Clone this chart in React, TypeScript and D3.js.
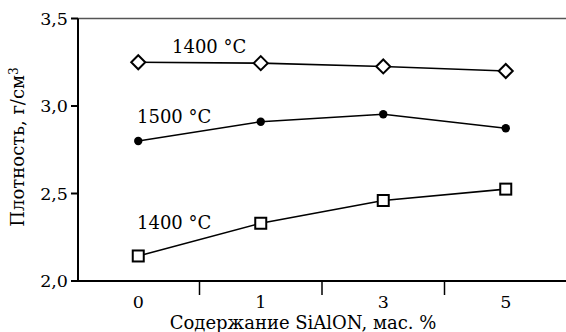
import * as d3 from "d3";

const categories = ["0", "1", "3", "5"];
const diamond1400 = [3.25, 3.245, 3.226, 3.2];
const dots1500 = [2.8, 2.91, 2.953, 2.873];
const squares1400 = [2.143, 2.33, 2.46, 2.525];
const yTicks = [2.0, 2.5, 3.0, 3.5];

const W = 566;
const H = 332;
const font = "DejaVu Serif";

export default function App() {
  const x = d3.scaleBand<string>().domain(categories).range([77, 567]);
  const y = d3.scaleLinear().domain([2.0, 3.5]).range([281, 18.5]);
  const cx = (c: string) => (x(c) ?? 0) + x.bandwidth() / 2;

  const mk = (vals: number[]) =>
    d3
      .line<number>()
      .x((_, i) => cx(categories[i]))
      .y((v) => y(v))(vals) ?? "";

  const fmt = (v: number) => v.toFixed(1).replace(".", ",");
  const bounds = categories.slice(1).map((c) => x(c) ?? 0);
  const ts = { fontFamily: font, fontSize: 17.5 };
  const ls = { fontFamily: font, fontSize: 18 };

  return (
    <svg
      width={W}
      height={H}
      style={{ position: "absolute", left: 0, top: 0, background: "#fff" }}
    >
      <line x1={78} x2={566} y1={y(3.5)} y2={y(3.5)} stroke="#555" strokeWidth={1.5} />
      <line x1={78} x2={78} y1={y(3.5)} y2={y(2.0) + 1} stroke="#000" strokeWidth={2} />
      <line x1={77} x2={566} y1={y(2.0)} y2={y(2.0)} stroke="#000" strokeWidth={2} />
      {yTicks.map((t) => (
        <g key={t}>
          <line x1={71} x2={78} y1={y(t)} y2={y(t)} stroke="#000" strokeWidth={2} />
          <text x={68} y={y(t)} dy="0.35em" textAnchor="end" style={ts}>
            {fmt(t)}
          </text>
        </g>
      ))}
      {bounds.map((b, i) => (
        <line key={i} x1={b} x2={b} y1={y(2.0)} y2={y(2.0) + 14} stroke="#000" strokeWidth={1.5} />
      ))}
      {categories.map((c) => (
        <text key={c} x={cx(c)} y={308} textAnchor="middle" style={ts}>
          {c}
        </text>
      ))}
      <text x={303} y={329} textAnchor="middle" style={ls}>
        Содержание SiAlON, мас. %
      </text>
      <text
        transform={`translate(24,147) rotate(-90)`}
        textAnchor="middle"
        style={ls}
      >
        Плотность, г/см<tspan dy="-6" style={{ fontSize: 12 }}>3</tspan>
      </text>

      <path d={mk(diamond1400)} fill="none" stroke="#000" strokeWidth={1.6} />
      <path d={mk(dots1500)} fill="none" stroke="#000" strokeWidth={1.6} />
      <path d={mk(squares1400)} fill="none" stroke="#000" strokeWidth={1.6} />

      {diamond1400.map((v, i) => {
        const px = cx(categories[i]);
        const py = y(v);
        const r = 7;
        return (
          <path
            key={"d" + i}
            d={`M${px - r},${py}L${px},${py - r}L${px + r},${py}L${px},${py + r}Z`}
            fill="#fff"
            stroke="#000"
            strokeWidth={2}
          />
        );
      })}
      {dots1500.map((v, i) => (
        <circle key={"c" + i} cx={cx(categories[i])} cy={y(v)} r={4.2} fill="#000" />
      ))}
      {squares1400.map((v, i) => (
        <rect
          key={"s" + i}
          x={cx(categories[i]) - 5.5}
          y={y(v) - 5.5}
          width={11}
          height={11}
          fill="#fff"
          stroke="#000"
          strokeWidth={2}
        />
      ))}

      <text x={172} y={53} style={ls}>1400 °C</text>
      <text x={137} y={123} style={ls}>1500 °C</text>
      <text x={137} y={229} style={ls}>1400 °C</text>
    </svg>
  );
}
